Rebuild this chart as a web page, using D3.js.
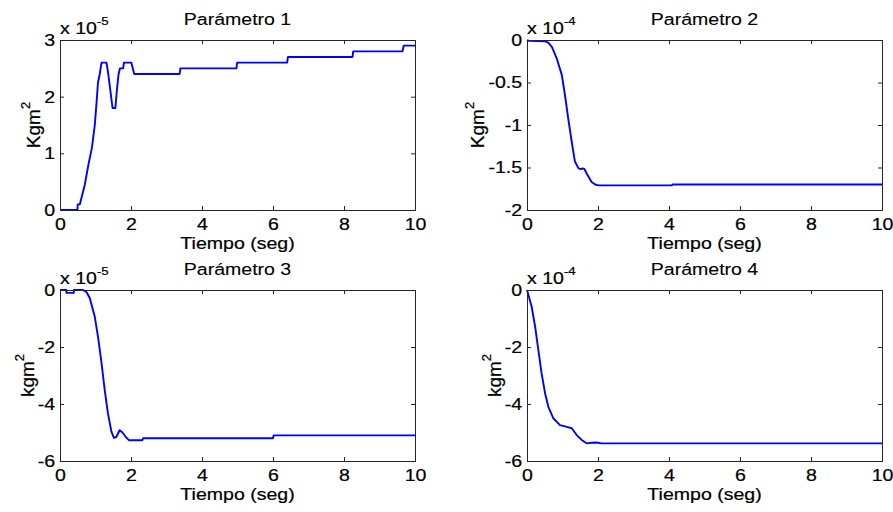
<!DOCTYPE html>
<html>
<head>
<meta charset="utf-8">
<script src="https://cdn.jsdelivr.net/npm/d3@7"></script>
<style>
  body { margin: 0; background: #fff; }
  text { font-family: "Liberation Sans", Arial, sans-serif; fill: #000; stroke: #000; stroke-width: 0.22px; }
  text.title { stroke-width: 0.1px; }
</style>
</head>
<body>
<svg id="chart" width="893" height="512"></svg>
<script>
// ---- data ----
const titles = ["Parámetro 1", "Parámetro 2", "Parámetro 3", "Parámetro 4"];
const yLabels = ["Kgm", "Kgm", "kgm", "kgm"];
const exponents = ["-5", "-4", "-5", "-4"];
const xTicks = [0, 2, 4, 6, 8, 10];
const yTicks1 = [0, 1, 2, 3];
const yTicks2 = [0, -0.5, -1, -1.5, -2];
const yTicks3 = [0, -2, -4, -6];
const yTicks4 = [0, -2, -4, -6];

const t1 = [0,0.49,0.5,0.56,0.62,0.7,0.8,0.9,0.98,1.03,1.07,1.12,1.17,1.31,1.36,1.42,1.48,1.56,1.6,1.65,1.69,1.78,1.8,2.01,2.05,2.09,3.37,3.39,4.97,4.99,6.4,6.42,8.24,8.26,9.65,9.68,10];
const y1 = [0,0,0.1,0.1,0.25,0.45,0.8,1.1,1.5,1.9,2.25,2.4,2.6,2.6,2.4,2.1,1.8,1.8,2.1,2.4,2.5,2.5,2.6,2.6,2.5,2.4,2.4,2.5,2.5,2.6,2.6,2.7,2.7,2.8,2.8,2.9,2.9];

const t2 = [0,0.05,0.3,0.51,0.6,0.7,0.84,0.98,1.07,1.16,1.26,1.35,1.45,1.52,1.57,1.62,1.68,1.75,1.82,1.92,2.01,4.08,4.1,10];
const y2 = [0,-0.01,-0.012,-0.015,-0.03,-0.08,-0.22,-0.41,-0.65,-0.92,-1.2,-1.43,-1.51,-1.52,-1.51,-1.52,-1.57,-1.62,-1.67,-1.70,-1.71,-1.71,-1.70,-1.70];

const t3 = [0,0.18,0.18,0.39,0.39,0.65,0.75,0.84,0.98,1.07,1.17,1.26,1.35,1.45,1.52,1.59,1.68,1.76,1.85,1.94,2.32,2.34,6.0,6.02,10];
const y3 = [0,0,-0.1,-0.1,0,0,-0.08,-0.29,-0.94,-1.64,-2.57,-3.51,-4.33,-4.98,-5.19,-5.15,-4.92,-5.0,-5.15,-5.27,-5.27,-5.2,-5.2,-5.1,-5.1];

const t4 = [0,0.13,0.23,0.32,0.41,0.51,0.6,0.74,0.93,1.12,1.26,1.4,1.54,1.68,1.82,1.96,2.1,10];
const y4 = [0,-0.58,-1.29,-2.11,-2.92,-3.63,-4.09,-4.5,-4.74,-4.8,-4.85,-5.09,-5.26,-5.38,-5.36,-5.35,-5.38,-5.38];

const series = [[t1,y1],[t2,y2],[t3,y3],[t4,y4]];
const yTickSets = [yTicks1, yTicks2, yTicks3, yTicks4];

// ---- layout ----
const boxes = [
  {l: 60, r: 415, t: 40, b: 210},
  {l: 527, r: 882, t: 40, b: 210},
  {l: 60, r: 415, t: 290, b: 461},
  {l: 527, r: 882, t: 290, b: 461}
];
const svg = d3.select("#chart");
const fs = 17;      // font size
const sx = 1.15;    // horizontal stretch of glyphs
const fmt = v => String(v).replace("\u2212", "-");

function label(g, x, y, txt, size, anchor) {
  return g.append("text")
    .attr("transform", `translate(${x},${y}) scale(${sx},1)`)
    .attr("text-anchor", anchor || "middle")
    .style("font-size", (size || fs) + "px")
    .text(txt);
}

boxes.forEach((bx, i) => {
  const yt = yTickSets[i];
  const x = d3.scaleLinear().domain([0, 10]).range([bx.l, bx.r]);
  const y = d3.scaleLinear().domain(d3.extent(yt)).range([bx.b, bx.t]);
  const g = svg.append("g");

  // line first (axes drawn on top)
  const [tt, yy] = series[i];
  const data = tt.map((d, k) => [d, yy[k]]);
  g.append("path").datum(data)
    .attr("fill", "none").attr("stroke", "#0000ff").attr("stroke-width", 1.9)
    .attr("stroke-linejoin", "round")
    .attr("d", d3.line().x(d => x(d[0])).y(d => y(d[1])));

  // axes with inward ticks
  const tl = 4;
  const axB = g.append("g").attr("transform", `translate(0,${bx.b})`)
    .call(d3.axisBottom(x).tickValues(xTicks).tickSize(-tl).tickPadding(8).tickFormat(fmt));
  const axT = g.append("g").attr("transform", `translate(0,${bx.t})`)
    .call(d3.axisTop(x).tickValues(xTicks).tickSize(-tl).tickFormat(""));
  const axL = g.append("g").attr("transform", `translate(${bx.l},0)`)
    .call(d3.axisLeft(y).tickValues(yt).tickSize(-tl).tickPadding(4.3).tickFormat(fmt));
  const axR = g.append("g").attr("transform", `translate(${bx.r},0)`)
    .call(d3.axisRight(y).tickValues(yt).tickSize(-tl).tickFormat(""));
  [axB, axT, axL, axR].forEach(a => {
    a.select(".domain").attr("stroke", "#262626").attr("stroke-width", 1);
    a.selectAll(".tick line").attr("stroke", "#262626");
    a.selectAll("text").style("font-size", fs + "px").attr("fill", "#000")
      .style("font-family", '"Liberation Sans", Arial, sans-serif')
      .attr("transform", `scale(${sx},1)`);
  });
  axB.selectAll("text").attr("dy", "0.71em");

  // title
  label(g, (bx.l + bx.r) / 2, bx.t - 15, titles[i], 17).attr("class", "title");

  // exponent
  const ex = label(g, bx.l, bx.t - 6, "", fs, "start");
  ex.append("tspan").text("x 10");
  ex.append("tspan").attr("dy", -9).style("font-size", "11.5px").text(exponents[i]);

  // x label
  label(g, (bx.l + bx.r) / 2, bx.b + 39, "Tiempo (seg)", fs);

  // y label placed left of widest tick label
  let minX = bx.l;
  axL.selectAll("text").each(function() {
    const r = this.getBoundingClientRect();
    const sr = svg.node().getBoundingClientRect();
    minX = Math.min(minX, r.left - sr.left);
  });
  const cy = (bx.t + bx.b) / 2;
  const yl = g.append("text")
    .attr("transform", `translate(${minX - 4},${cy}) rotate(-90)`)
    .attr("text-anchor", "middle").style("font-size", "19px");
  yl.append("tspan").text(yLabels[i]);
  yl.append("tspan").attr("dy", -10).style("font-size", "13px").text("2");
});
</script>
</body>
</html>
